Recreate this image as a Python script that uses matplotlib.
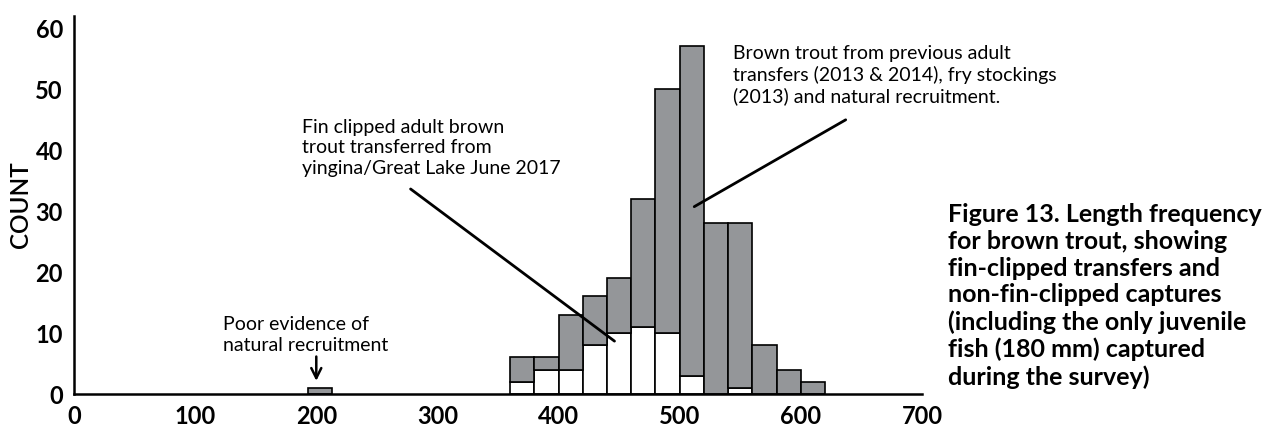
import numpy as np
import matplotlib
matplotlib.use("Agg")
import matplotlib.pyplot as plt

# length bins (left edge, mm) and counts
bin_left = [193, 360, 380, 400, 420, 440, 460, 480, 500, 520, 540, 560, 580, 600]
total = [1, 6, 6, 13, 16, 19, 32, 50, 57, 28, 28, 8, 4, 2]
fin_clipped = [0, 2, 4, 4, 8, 10, 11, 10, 3, 0, 1, 0, 0, 0]
bin_width = 20

x_ticks = [0, 100, 200, 300, 400, 500, 600, 700]
y_ticks = [0, 10, 20, 30, 40, 50, 60]

caption = ("Figure 13. Length frequency\nfor brown trout, showing\n"
           "fin-clipped transfers and\nnon-fin-clipped captures\n"
           "(including the only juvenile\nfish (180 mm) captured\n"
           "during the survey)")

plt.rcParams['font.family'] = ['Lato', 'DejaVu Sans']

gray = '#949699'
not_clipped = np.array(total) - np.array(fin_clipped)

fig = plt.figure(figsize=(12.72, 4.29), dpi=100)
fig.patch.set_facecolor('white')
ax = fig.add_axes([74 / 1272, 35 / 429, 848 / 1272, 378 / 429])

ax.bar(bin_left, fin_clipped, width=bin_width, align='edge', color='white',
       edgecolor='black', linewidth=1.2, zorder=2)
ax.bar(bin_left, not_clipped, bottom=fin_clipped, width=bin_width, align='edge',
       color=gray, edgecolor='black', linewidth=1.2, zorder=2)

ax.set_xlim(0, 700)
ax.set_ylim(0, 62)
ax.set_xticks(x_ticks)
ax.set_yticks(y_ticks)
ax.tick_params(length=0, labelsize=17, pad=8)
for lab in ax.get_xticklabels() + ax.get_yticklabels():
    lab.set_fontweight('bold')
ax.spines['top'].set_visible(False)
ax.spines['right'].set_visible(False)
ax.spines['left'].set_linewidth(1.8)
ax.spines['bottom'].set_linewidth(1.8)
ax.spines['bottom'].set_zorder(3)

ax.set_ylabel('COUNT', fontsize=17.5, fontweight='semibold')
ax.yaxis.set_label_coords(-0.05, 0.5)

# annotations
ax.text(188, 40.4, "Fin clipped adult brown\ntrout transferred from\nyingina/Great Lake June 2017",
        fontsize=14, va='center', ha='left', linespacing=1.24)
ax.annotate('', xy=(448, 8.4), xytext=(276, 33.9),
            arrowprops=dict(arrowstyle='-', lw=2, color='black'))

ax.text(544, 52.3, "Brown trout from previous adult\ntransfers (2013 & 2014), fry stockings\n(2013) and natural recruitment.",
        fontsize=14, va='center', ha='left', linespacing=1.24)
ax.annotate('', xy=(510, 30.5), xytext=(639, 45.2),
            arrowprops=dict(arrowstyle='-', lw=2, color='black'))

ax.text(123, 9.7, "Poor evidence of\nnatural recruitment",
        fontsize=14, va='center', ha='left', linespacing=1.24)
ax.annotate('', xy=(200, 1.7), xytext=(200, 6.6),
            arrowprops=dict(arrowstyle='->', lw=1.8, color='black',
                            mutation_scale=18))

fig.text(948 / 1272, 1 - 203 / 429, caption, fontsize=18, fontweight='bold',
         va='top', ha='left', linespacing=1.2)

fig.savefig('out.png', dpi=100, facecolor='white')
